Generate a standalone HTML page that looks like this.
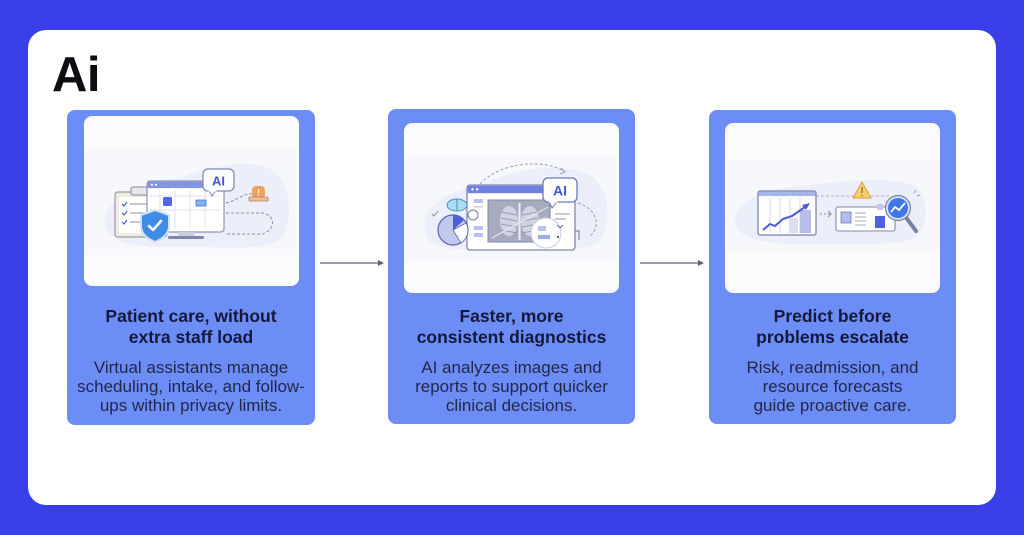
<!DOCTYPE html>
<html>
<head>
<meta charset="utf-8">
<style>
  html,body{margin:0;padding:0;}
  body{width:1024px;height:535px;background:#3b3fe7;position:relative;overflow:hidden;font-family:"Liberation Sans",sans-serif;}
  .panel{position:absolute;left:28px;top:30px;width:968px;height:475px;background:#ffffff;border-radius:18px;}
  .card{position:absolute;background:#6c8cf6;border-radius:8px;}
  .inner{position:absolute;background:#fbfbfe;border-radius:8px;}
  .title{position:absolute;text-align:center;font-weight:bold;font-size:17.5px;line-height:21px;color:#14183a;white-space:nowrap;}
  .desc{position:absolute;text-align:center;font-size:17px;line-height:19px;color:#22274a;white-space:nowrap;}
  svg{position:absolute;left:0;top:0;}
</style>
</head>
<body>
<div class="panel"></div>

<div class="card" style="left:67px;top:110px;width:248px;height:315px;"></div>
<div class="card" style="left:388px;top:109px;width:247px;height:315px;"></div>
<div class="card" style="left:709px;top:110px;width:247px;height:314px;"></div>

<div class="inner" style="left:84px;top:116px;width:215px;height:170px;"></div>
<div class="inner" style="left:404px;top:123px;width:215px;height:170px;"></div>
<div class="inner" style="left:725px;top:123px;width:215px;height:170px;"></div>

<svg width="1024" height="535" viewBox="0 0 1024 535" xmlns="http://www.w3.org/2000/svg">
  <!-- logo -->
  <text x="52" y="91" font-family="Liberation Sans, sans-serif" font-weight="bold" font-size="49" fill="#0d0d12" letter-spacing="-0.5">Ai</text>

  <!-- arrows -->
  <line x1="320" y1="263" x2="380" y2="263" stroke="#5d6272" stroke-width="1.3"/>
  <polygon points="384,263 378,260 378,266" fill="#5d6272"/>
  <line x1="640" y1="263" x2="700" y2="263" stroke="#5d6272" stroke-width="1.3"/>
  <polygon points="704,263 698,260 698,266" fill="#5d6272"/>

  <!-- ============ Illustration 1 ============ -->
  <rect x="86" y="150" width="211" height="105" fill="#f7f8fc"/>
  <path d="M105,225 C100,200 140,185 180,178 C215,165 250,158 272,170 C292,183 292,215 284,235 C276,250 240,248 200,247 C160,247 110,250 105,225 Z" fill="#eceef9"/>
  <path d="M226,203 C238,200 244,193 252,194" fill="none" stroke="#8a90a8" stroke-width="1" stroke-dasharray="3 2"/>
  <path d="M226,213 L262,213 C276,215 276,230 262,234 L226,234" fill="none" stroke="#8a90a8" stroke-width="1" stroke-dasharray="3 2"/>
  <rect x="115" y="192" width="52" height="45" rx="3" fill="#f1ebe1" stroke="#9a9aa8" stroke-width="1.2"/>
  <rect x="119" y="197" width="44" height="36" fill="#ffffff"/>
  <rect x="131" y="187" width="20" height="8" rx="2" fill="#e8e6ef" stroke="#8a8a9a" stroke-width="1"/>
  <polyline points="122,204 124,206 127,202" fill="none" stroke="#4a5bd6" stroke-width="1.2"/>
  <polyline points="122,213 124,215 127,211" fill="none" stroke="#4a5bd6" stroke-width="1.2"/>
  <polyline points="122,222 124,224 127,220" fill="none" stroke="#4a5bd6" stroke-width="1.2"/>
  <line x1="130" y1="204" x2="152" y2="204" stroke="#a3a8bc" stroke-width="1.2"/>
  <line x1="130" y1="213" x2="150" y2="213" stroke="#a3a8bc" stroke-width="1.2"/>
  <line x1="130" y1="222" x2="148" y2="222" stroke="#a3a8bc" stroke-width="1.2"/>
  <rect x="147" y="181" width="77" height="51" rx="3" fill="#ffffff" stroke="#8e94b0" stroke-width="1.2"/>
  <rect x="147.6" y="181.6" width="75.8" height="6.5" fill="#8393e6"/>
  <circle cx="152" cy="184.8" r="1.1" fill="#fff"/>
  <circle cx="156" cy="184.8" r="1.1" fill="#fff"/>
  <g stroke="#dde0ee" stroke-width="1">
    <line x1="160" y1="190" x2="160" y2="228"/>
    <line x1="175" y1="190" x2="175" y2="228"/>
    <line x1="190" y1="190" x2="190" y2="228"/>
    <line x1="205" y1="190" x2="205" y2="228"/>
    <line x1="150" y1="196" x2="221" y2="196"/>
    <line x1="150" y1="210" x2="221" y2="210"/>
  </g>
  <rect x="163" y="197" width="9" height="9" rx="1.5" fill="#5366e6"/>
  <rect x="196" y="200" width="10" height="6" fill="#7fb5e8" stroke="#4a6ed8" stroke-width="0.8"/>
  <rect x="178" y="232" width="16" height="5" fill="#c9cde0"/>
  <rect x="168" y="236" width="36" height="3" rx="1.5" fill="#7f86a8"/>
  <rect x="203" y="169" width="31" height="22" rx="5" fill="#ffffff" stroke="#7d86b8" stroke-width="1.2"/>
  <polygon points="209,190.5 212,196 216,190.5" fill="#ffffff" stroke="#7d86b8" stroke-width="1"/>
  <rect x="208.5" y="189" width="8" height="2.5" fill="#ffffff"/>
  <text x="218.5" y="185.5" text-anchor="middle" font-family="Liberation Sans, sans-serif" font-weight="bold" font-size="13" fill="#4357d6">AI</text>
  <path d="M155,210 L169,215 L169,226 C169,234 162,239 155,242 C148,239 141,234 141,226 L141,215 Z" fill="#3d8ce6" stroke="#d3e2f8" stroke-width="2"/>
  <polyline points="149,226 153,230 161,221" fill="none" stroke="#ffffff" stroke-width="2.6" stroke-linecap="round" stroke-linejoin="round"/>
  <rect x="252" y="186" width="13" height="12" rx="4" fill="#f2a25e"/>
  <rect x="249" y="197" width="19" height="4" rx="1" fill="#f3c08c" stroke="#a08070" stroke-width="0.8"/>
  <line x1="258.5" y1="189" x2="258.5" y2="193" stroke="#fff" stroke-width="1.3"/>
  <circle cx="258.5" cy="195" r="0.7" fill="#fff"/>

  <!-- ============ Illustration 2 ============ -->
  <rect x="406" y="157" width="211" height="105" fill="#f7f8fc"/>
  <path d="M425,232 C420,205 450,190 480,186 C510,170 560,160 590,175 C610,188 612,225 600,240 C590,252 540,250 500,250 C460,250 428,252 425,232 Z" fill="#eceef9"/>
  <path d="M480,184 C500,162 545,158 565,172" fill="none" stroke="#9aa0b8" stroke-width="1" stroke-dasharray="3 2"/>
  <polyline points="561,168 565,172 560,174" fill="none" stroke="#9aa0b8" stroke-width="1"/>
  <path d="M578,203 C596,208 602,226 590,236" fill="none" stroke="#9aa0b8" stroke-width="1" stroke-dasharray="3 2"/>
  <polyline points="575,231 579,231 579,240" fill="none" stroke="#6f7590" stroke-width="1"/>
  <rect x="467" y="185" width="108" height="65" rx="3" fill="#ffffff" stroke="#8088b0" stroke-width="1.3"/>
  <rect x="467.7" y="185.7" width="106.6" height="7.5" fill="#6f80e0"/>
  <circle cx="472.5" cy="189.3" r="1.2" fill="#fff"/>
  <circle cx="477" cy="189.3" r="1.2" fill="#fff"/>
  <rect x="474" y="199" width="9" height="4" fill="#b7c0ee"/>
  <rect x="474" y="206" width="9" height="1.5" fill="#c9cdea"/>
  <rect x="474" y="226" width="9" height="4" fill="#b7c0ee"/>
  <rect x="474" y="233" width="9" height="4" fill="#b7c0ee"/>
  <rect x="488" y="200" width="62" height="42" fill="#a6abbe" stroke="#8088a8" stroke-width="1"/>
  <ellipse cx="509" cy="221" rx="9" ry="15" fill="#d8dbe7" opacity="0.85"/>
  <ellipse cx="530" cy="221" rx="9" ry="15" fill="#d8dbe7" opacity="0.85"/>
  <g stroke="#969cb0" stroke-width="1">
    <line x1="501" y1="212" x2="517" y2="215"/>
    <line x1="501" y1="218" x2="517" y2="221"/>
    <line x1="501" y1="224" x2="517" y2="227"/>
    <line x1="501" y1="230" x2="517" y2="233"/>
    <line x1="522" y1="215" x2="538" y2="212"/>
    <line x1="522" y1="221" x2="538" y2="218"/>
    <line x1="522" y1="227" x2="538" y2="224"/>
    <line x1="522" y1="233" x2="538" y2="230"/>
  </g>
  <line x1="519.5" y1="203" x2="519.5" y2="240" stroke="#eceef5" stroke-width="2"/>
  <line x1="492" y1="238" x2="548" y2="207" stroke="#f0f1f7" stroke-width="1"/>
  <line x1="555" y1="214" x2="570" y2="214" stroke="#a0a5ba" stroke-width="1.2"/>
  <line x1="555" y1="219" x2="566" y2="219" stroke="#a0a5ba" stroke-width="1.2"/>
  <circle cx="546" cy="233" r="15" fill="#ffffff" stroke="#c8cce0" stroke-width="1"/>
  <rect x="538" y="226" width="8" height="5" fill="#bac4f0"/>
  <rect x="538" y="235" width="12" height="4" fill="#9aabec"/>
  <polyline points="557,225 560,228 563,225" fill="none" stroke="#6a7090" stroke-width="1.1"/>
  <circle cx="558" cy="237" r="1.1" fill="#4a5070"/>
  <rect x="543" y="178" width="34" height="24" rx="5" fill="#ffffff" stroke="#6d78b8" stroke-width="1.3"/>
  <polygon points="549,201.5 552,208 557,201.5" fill="#ffffff" stroke="#6d78b8" stroke-width="1"/>
  <rect x="548.5" y="200" width="9" height="2.5" fill="#ffffff"/>
  <text x="560" y="195.5" text-anchor="middle" font-family="Liberation Sans, sans-serif" font-weight="bold" font-size="14" fill="#4357d6">AI</text>
  <circle cx="453" cy="230" r="15" fill="#c3c8ef" stroke="#5a64b0" stroke-width="1.2"/>
  <path d="M453,230 L453,215 A15,15 0 0 1 464,220 Z" fill="#4b5fd8"/>
  <path d="M453,230 L466,223 A15,15 0 0 1 461,243 Z" fill="#ffffff" stroke="#5a64b0" stroke-width="0.8"/>
  <ellipse cx="457" cy="205" rx="10" ry="6" fill="#a9def0" stroke="#4d90c0" stroke-width="1"/>
  <line x1="457" y1="199" x2="457" y2="211" stroke="#4d90c0" stroke-width="1"/>
  <circle cx="473" cy="215" r="5" fill="#ffffff" stroke="#777c90" stroke-width="1"/>
  <polyline points="432,214 434,216 438,211" fill="none" stroke="#8a90a8" stroke-width="1"/>

  <!-- ============ Illustration 3 ============ -->
  <rect x="727" y="160" width="211" height="90" fill="#f7f8fc"/>
  <path d="M735,220 C735,198 770,188 810,185 C850,180 890,176 915,186 C930,196 928,228 915,238 C900,246 850,244 800,244 C760,244 736,238 735,220 Z" fill="#eceef9"/>
  <line x1="816" y1="196" x2="890" y2="196" stroke="#aab0c4" stroke-width="1" stroke-dasharray="3 2"/>
  <rect x="758" y="191" width="58" height="44" rx="2" fill="#ffffff" stroke="#7880a8" stroke-width="1.2"/>
  <rect x="758.6" y="191.6" width="56.8" height="4.5" fill="#a8b4ec"/>
  <g stroke="#d5d8e6" stroke-width="1">
    <line x1="770" y1="198" x2="770" y2="233"/>
    <line x1="780" y1="198" x2="780" y2="233"/>
    <line x1="790" y1="198" x2="790" y2="233"/>
    <line x1="800" y1="198" x2="800" y2="233"/>
  </g>
  <rect x="789" y="218" width="9" height="15" fill="#dcdff0"/>
  <rect x="800" y="210" width="11" height="23" fill="#b7bde6"/>
  <polyline points="763,230 770,224 775,226 783,219 792,216 805,207" fill="none" stroke="#4a5cd6" stroke-width="2" stroke-linejoin="round"/>
  <polygon points="810,203 802,205 806,210" fill="#4a5cd6"/>
  <line x1="820" y1="214" x2="830" y2="214" stroke="#8a90a8" stroke-width="1.1" stroke-dasharray="2 2"/>
  <polyline points="828,211 831,214 828,217" fill="none" stroke="#8a90a8" stroke-width="1.1"/>
  <rect x="836" y="207" width="59" height="24" rx="2" fill="#ffffff" stroke="#8088a8" stroke-width="1.1"/>
  <rect x="841" y="212" width="10" height="11" fill="#b3bcea" stroke="#6f7ac0" stroke-width="0.8"/>
  <g stroke="#a3a8bc" stroke-width="1">
    <line x1="855" y1="213" x2="866" y2="213"/>
    <line x1="855" y1="217" x2="866" y2="217"/>
    <line x1="855" y1="221" x2="866" y2="221"/>
    <line x1="855" y1="225" x2="866" y2="225"/>
  </g>
  <rect x="877" y="204" width="6" height="6" fill="#c5c9e6"/>
  <rect x="875" y="216" width="10" height="12" fill="#4f63e0"/>
  <polygon points="862,182 871,198 853,198" fill="#f8cf6e" stroke="#d8a040" stroke-width="1" stroke-linejoin="round"/>
  <line x1="862" y1="187" x2="862" y2="193" stroke="#9a6a20" stroke-width="1.3"/>
  <circle cx="862" cy="195.5" r="0.8" fill="#9a6a20"/>
  <line x1="905" y1="216" x2="916" y2="231" stroke="#7880a8" stroke-width="4" stroke-linecap="round"/>
  <circle cx="898" cy="208" r="12.5" fill="#d8e0f6" stroke="#7880a8" stroke-width="1.2"/>
  <circle cx="898" cy="208" r="10" fill="#3f78e6"/>
  <polyline points="891,212 895,207 899,210 905,203" fill="none" stroke="#ffffff" stroke-width="1.8" stroke-linejoin="round"/>
  <line x1="914" y1="193" x2="916" y2="190" stroke="#9aa0b8" stroke-width="1"/>
  <line x1="917" y1="196" x2="920" y2="195" stroke="#9aa0b8" stroke-width="1"/>
</svg>

<div class="title" style="left:67px;top:306px;width:248px;">Patient care, without<br>extra staff load</div>
<div class="desc" style="left:67px;top:358px;width:248px;">Virtual assistants manage<br>scheduling, intake, and follow-<br>ups within privacy limits.</div>

<div class="title" style="left:388px;top:306px;width:247px;">Faster, more<br>consistent diagnostics</div>
<div class="desc" style="left:388px;top:358px;width:247px;">AI analyzes images and<br>reports to support quicker<br>clinical decisions.</div>

<div class="title" style="left:709px;top:306px;width:247px;">Predict before<br>problems escalate</div>
<div class="desc" style="left:709px;top:358px;width:247px;">Risk, readmission, and<br>resource forecasts<br>guide proactive care.</div>
</body>
</html>
